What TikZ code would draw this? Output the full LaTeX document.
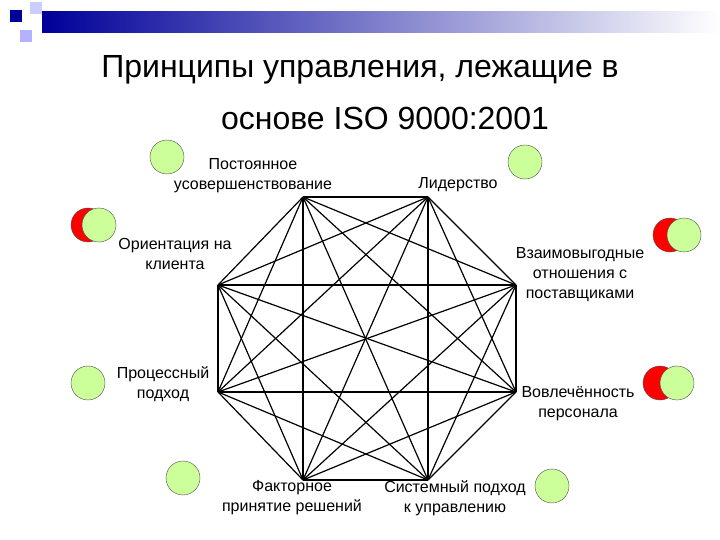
\documentclass[tikz,border=0pt]{standalone}
\usepackage{fontspec}
\setmainfont{Liberation Sans}
\definecolor{lgreen}{HTML}{CCFF99}
\begin{document}
\begin{tikzpicture}[x=1pt,y=-1pt,
  lbl/.style={align=center,font=\fontsize{16}{20}\selectfont},
  gc/.style={circle,draw=black!70,fill=lgreen,minimum size=34pt,inner sep=0pt},
  rc/.style={circle,draw=black!70,fill=red,minimum size=34pt,inner sep=0pt},
  edge/.style={draw=black,line width=1.2pt}]
\useasboundingbox (0,0) rectangle (720,540);
\shade[left color=blue!60!black,right color=white] (42,12) rectangle (720,33);
\fill[blue!60!black] (10,10) rectangle (22,22);
\fill[blue!20] (30,2) rectangle (42,14);
\fill[blue!30] (20,30) rectangle (32,42);
\node[font=\fontsize{32}{36}\selectfont] (t1) at (360,70) {Принципы управления, лежащие в};
\node[font=\fontsize{32}{36}\selectfont] (t2) at (385,118) {основе ISO 9000:2001};
\coordinate (v1) at (303,197);
\coordinate (v2) at (428,197);
\coordinate (v3) at (516,285);
\coordinate (v4) at (516,392);
\coordinate (v5) at (428,480);
\coordinate (v6) at (303,480);
\coordinate (v7) at (218,392);
\coordinate (v8) at (218,285);
\foreach \i in {1,...,8}{\foreach \j in {1,...,8}{\ifnum\i<\j \draw[edge] (v\i) -- (v\j);\fi}}
\node[lbl] (l1) at (253,176) {Постоянное\\усовершенствование};
\node[lbl] (l2) at (458,185) {Лидерство};
\node[lbl] (l3) at (580,275) {Взаимовыгодные\\отношения с\\поставщиками};
\node[lbl] (l4) at (578,404) {Вовлечённость\\персонала};
\node[lbl] (l5) at (455,498) {Системный подход\\к управлению};
\node[lbl] (l6) at (292,498) {Факторное\\принятие решений};
\node[lbl] (l7) at (163,384) {Процессный\\подход};
\node[lbl] (l8) at (175,254) {Ориентация на\\клиента};
\node[gc] (c1) at (167,157) {};
\node[gc] (c2) at (525,162) {};
\node[rc] (r3) at (88,225) {};
\node[gc] (c3) at (99,225) {};
\node[rc] (r4) at (670,235) {};
\node[gc] (c4) at (684,235) {};
\node[gc] (c5) at (88,383) {};
\node[rc] (r6) at (660,383) {};
\node[gc] (c6) at (677,383) {};
\node[gc] (c7) at (183,478) {};
\node[gc] (c8) at (552,486) {};
\end{tikzpicture}
\end{document}
